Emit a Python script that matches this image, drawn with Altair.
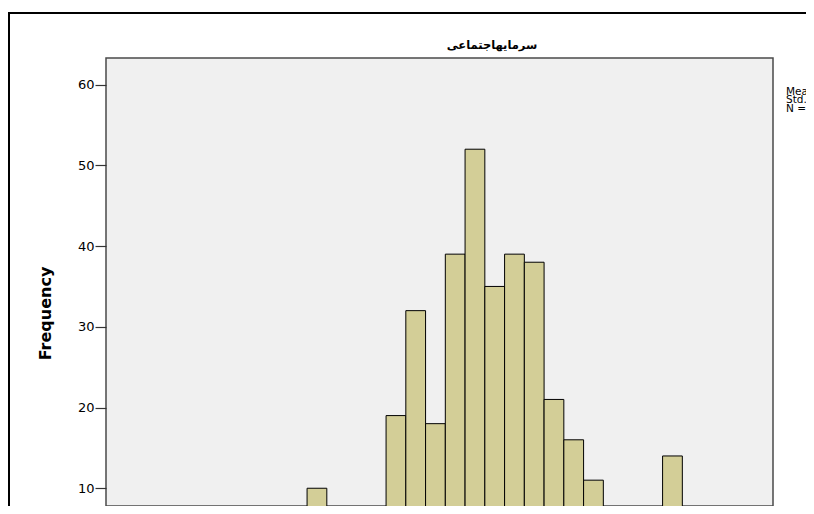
import altair as alt
import pandas as pd

# Histogram bins (index of bin, counted from the first visible bar) and frequencies
bin_index = [0, 2, 4, 5, 6, 7, 8, 9, 10, 11, 12, 13, 14, 18]
frequency = [10, 7, 19, 32, 18, 39, 52, 35, 39, 38, 21, 16, 11, 14]
y_ticks = [10, 20, 30, 40, 50, 60]
title_text = "سرمایهاجتماعی"
stats_lines = "Mean =\nStd. Dev. =\nN ="

df = pd.DataFrame({
    "bin_start": bin_index,
    "bin_end": [b + 1 for b in bin_index],
    "frequency": frequency,
})

x_scale = alt.Scale(domain=[-10.18, 23.59], nice=False, zero=False)
y_scale = alt.Scale(domain=[7.8, 63.3], nice=False, zero=False)

bars = alt.Chart(df).mark_bar(
    fill="#D3CE97", stroke="#000000", strokeWidth=1, clip=True
).encode(
    x=alt.X("bin_start:Q", scale=x_scale, axis=None),
    x2="bin_end",
    y=alt.Y(
        "frequency:Q",
        scale=y_scale,
        axis=alt.Axis(
            values=y_ticks,
            title="Frequency",
            titleFont="DejaVu Sans",
            titleFontSize=16,
            titleFontWeight="bold",
            titleColor="#000000",
            titleAngle=-90,
            titleBaseline="middle",
            titleX=-61,
            titleY=255,
            labelFont="DejaVu Sans",
            labelFontSize=13,
            labelColor="#000000",
            labelPadding=1,
            tickSize=11,
            tickColor="#333333",
            tickWidth=1.2,
            domain=False,
            grid=False,
        ),
    ),
    y2=alt.datum(0),
)

title = alt.Chart(pd.DataFrame({"t": [title_text]})).mark_text(
    align="center", baseline="middle", fontSize=11.5, fontWeight="bold",
    font="DejaVu Sans", color="#000000", clip=False
).encode(
    text="t:N",
    x=alt.value(386),
    y=alt.value(-12),
)

stats = alt.Chart(pd.DataFrame({"t": [stats_lines]})).mark_text(
    align="left", baseline="middle", fontSize=10.5, lineHeight=8.3,
    font="DejaVu Sans", color="#000000", lineBreak="\n", clip=False
).encode(
    text="t:N",
    x=alt.value(680),
    y=alt.value(34),
)

border = alt.Chart(pd.DataFrame({"a": [0]})).mark_rect(
    fillOpacity=0, stroke="#000000", strokeWidth=2, clip=False
).encode(
    x=alt.value(-97), x2=alt.value(900),
    y=alt.value(-45), y2=alt.value(700),
)

chart = alt.layer(bars, title, stats, border).properties(
    width=667,
    height=448,
    background="#FFFFFF",
    autosize=alt.AutoSizeParams(type="none"),
    padding={"left": 98, "top": 50, "right": 33, "bottom": 0},
).configure_view(
    fill="#F0F0F0", stroke="#4A4A4A", strokeWidth=1.5
)

chart.save("out.html", embed_options={"renderer": "svg", "actions": False})
